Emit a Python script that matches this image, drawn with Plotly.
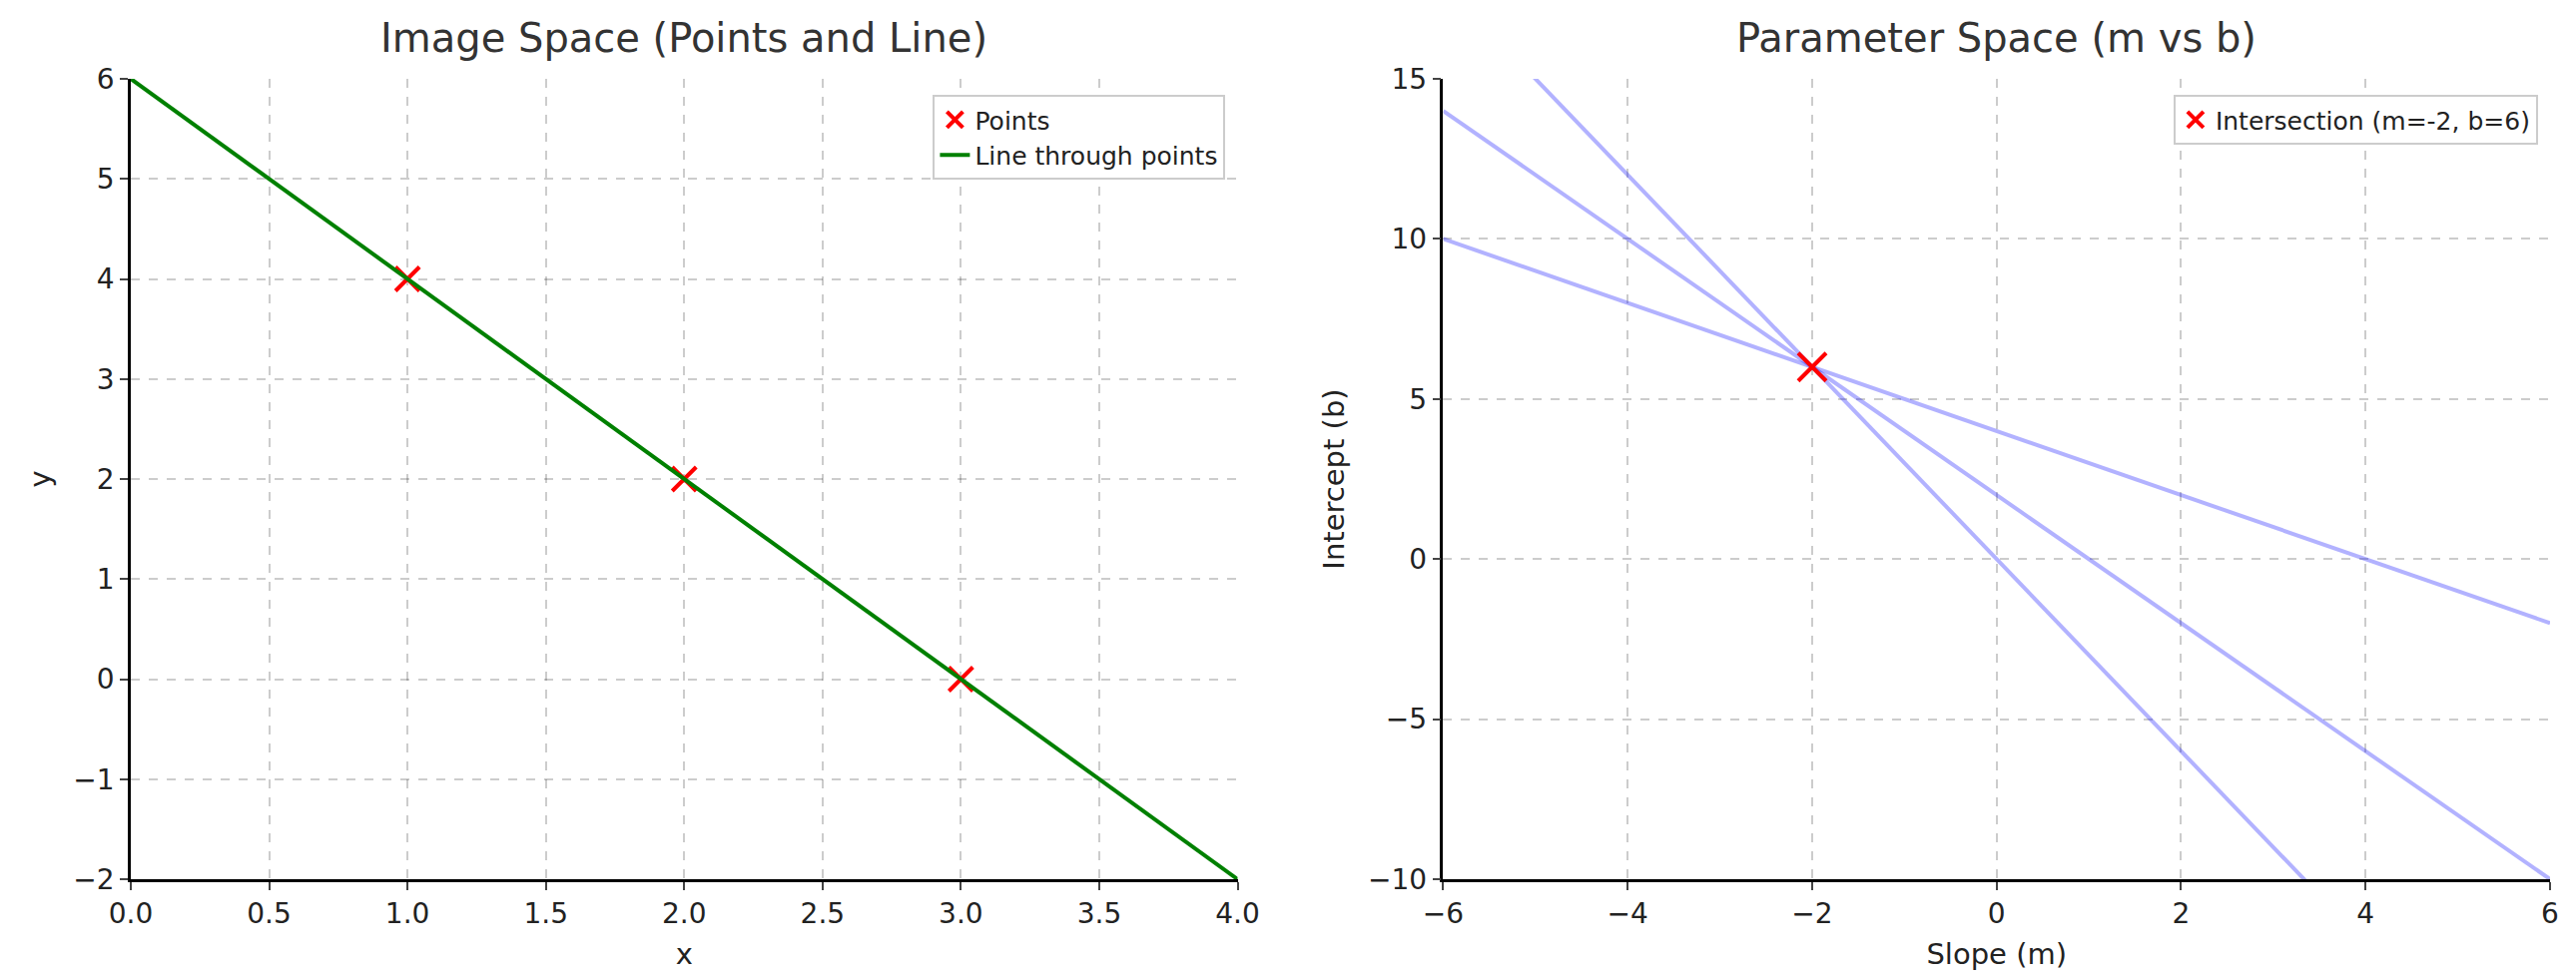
import numpy as np
import plotly.graph_objects as go
from plotly.subplots import make_subplots

px_ = [1, 2, 3]
py_ = [4, 2, 0]
line_x = [0, 4]
line_y = [6, -2]
m_range = [-6, 6]
inter_m = [-2]
inter_b = [6]

fig = make_subplots(rows=1, cols=2, horizontal_spacing=0.085,
                    subplot_titles=("Image Space (Points and Line)", "Parameter Space (m vs b)"))

fig.add_trace(go.Scatter(x=px_, y=py_, mode="markers", name="Points",
                         marker=dict(symbol="x-thin", size=24, color="red", line=dict(width=4, color="red")),
                         legend="legend"), 1, 1)
fig.add_trace(go.Scatter(x=line_x, y=line_y, mode="lines", name="Line through points",
                         line=dict(color="green", width=4), legend="legend"), 1, 1)

for xi, yi in zip(px_, py_):
    b = [yi - xi * m for m in m_range]
    fig.add_trace(go.Scatter(x=m_range, y=b, mode="lines", showlegend=False,
                             line=dict(color="rgba(0,0,255,0.3)", width=4)), 1, 2)
fig.add_trace(go.Scatter(x=inter_m, y=inter_b, mode="markers", name="Intersection (m=-2, b=6)",
                         marker=dict(symbol="x-thin", size=28, color="red", line=dict(width=4, color="red")),
                         legend="legend2"), 1, 2)

ax = dict(showline=True, linecolor="black", linewidth=2.5, ticks="outside", ticklen=8, tickwidth=2,
          gridcolor="rgba(0,0,0,0.2)", griddash="dash", gridwidth=1.5, zeroline=False,
          tickfont=dict(size=28, color="#222"), mirror=False)
fig.update_xaxes(**ax)
fig.update_yaxes(**ax)
fig.update_xaxes(range=[0, 4], dtick=0.5, tickformat=".1f", title=dict(text="x", font=dict(size=29)), row=1, col=1)
fig.update_yaxes(range=[-2, 6], dtick=1, title=dict(text="y", font=dict(size=29)), row=1, col=1)
fig.update_xaxes(range=[-6, 6], dtick=2, title=dict(text="Slope (m)", font=dict(size=29)), row=1, col=2)
fig.update_yaxes(range=[-10, 15], dtick=5, title=dict(text="Intercept (b)", font=dict(size=29)), row=1, col=2)

for a in fig.layout.annotations:
    a.font = dict(size=40, color="#333")
    a.y = 1.02

fig.update_layout(
    width=2580, height=980, plot_bgcolor="white", paper_bgcolor="white",
    font=dict(family="DejaVu Sans", color="#222"),
    margin=dict(l=123, r=32, t=71, b=107),
    legend=dict(x=0.99, y=0.98, xanchor="right", yanchor="top", xref="paper",
                bordercolor="#ccc", borderwidth=2, font=dict(size=25)),
    legend2=dict(x=0.995, y=0.98, xanchor="right", yanchor="top",
                 bordercolor="#ccc", borderwidth=2, font=dict(size=25)),
)
fig.update_layout(legend=dict(x=fig.layout.xaxis.domain[1] - 0.005))
fig.write_html("out.html")
